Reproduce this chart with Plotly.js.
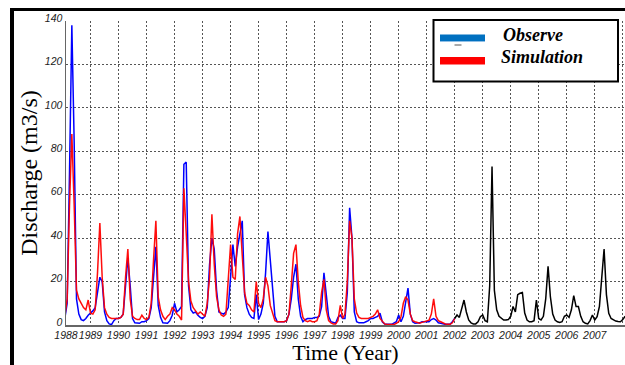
<!DOCTYPE html>
<html><head><meta charset="utf-8">
<script src="https://cdn.plot.ly/plotly-3.0.1.min.js"></script>
<style>
html,body{margin:0;padding:0;background:#fff;}
#wrap{position:relative;width:625px;height:365px;overflow:hidden;}
#chart{position:absolute;left:0;top:0;width:625px;height:365px;}
.bl{position:absolute;left:10px;top:8px;width:3.5px;height:357px;background:#000;}
.bt{position:absolute;left:10px;top:8px;width:615px;height:3px;background:#000;}
</style></head><body>
<div id="wrap"><div id="chart"></div><div class="bl"></div><div class="bt"></div></div>
<script>
// Monthly discharge (m3/s). Observed & simulated start Feb 1988; last value Jan 2002.
const observedStart = 1988 + 1/12;
const observed = [
  3, 10, 70, 138, 84, 12, 5, 2.5, 2, 3, 4.5,
  5.4, 6.5, 8, 15, 22, 20, 6, 2, 0.5, 0.2, 2, 3,
  3, 3.5, 5, 18, 31, 18, 3, 1, 0.8, 0.8, 1.5, 1.5,
  2, 3, 8, 22, 36, 9, 3.5, 1, 0.8, 0.8, 2, 4.5,
  10, 6, 7, 8.5, 74, 75, 18, 7, 5.5, 6, 4.5, 3.5,
  3, 4, 8, 28, 40, 35, 16, 6, 5.5, 5, 6, 8,
  22, 37, 27, 36, 42, 48, 14, 8, 5, 3.5, 3, 14,
  2.5, 5, 10, 24, 43, 30, 18, 4, 1.5, 1.5, 1.5, 1.5,
  2, 5, 12, 22, 28, 12, 4, 1.5, 2.5, 3, 3, 3,
  3.5, 3.5, 4, 8.5, 24, 14, 4, 1.5, 1, 0.8, 3.5, 4.5,
  3, 3, 15, 54, 40, 6, 1.5, 1, 1, 1, 1.5, 2,
  3, 3, 3.5, 4, 5.4, 1.5, 0.5, 0.3, 0.3, 0.3, 0.8, 1.5,
  4.6, 1.5, 4, 11, 17, 5, 1.5, 0.8, 0.8, 1, 1.5, 1.5,
  1.5, 1.5, 2.5, 3, 2.3, 1, 0.8, 0.5, 0.3, 0.3, 0.3, 1.5,
  3
];
const simulated = [
  4, 12, 55, 88, 55, 16, 12, 10, 8, 7, 11.5,
  5.4, 5, 7, 24, 47, 22, 8, 5, 3.5, 3, 3, 3,
  3, 3.5, 5, 22, 35, 12, 4, 3, 2.5, 2.5, 4.5, 3,
  2.5, 3.5, 10, 30, 48, 13, 7, 4, 2.5, 4, 5, 8,
  7, 5, 4, 2.3, 63, 42, 20, 11, 8, 6.5, 5, 6,
  5, 4, 10, 22, 51, 28, 13, 7, 4.6, 4, 5, 20,
  37, 22, 21, 42, 50, 32, 15, 10, 9, 7, 6, 20,
  10, 8, 12, 22, 18, 9, 5, 2, 1.5, 1.5, 1.5, 1.5,
  2, 5, 18, 33, 37, 20, 9, 3.5, 2, 1.5, 2, 1.5,
  1.5, 2, 5, 15, 21, 7, 2, 1, 0.5, 0.5, 2, 9,
  3, 5, 20, 48, 40, 12, 5.5, 3.5, 3, 3, 3, 3,
  3.5, 4, 5, 7, 3, 1.5, 0.5, 0.2, 0.2, 0.2, 0.2, 0.8,
  1.5, 3.8, 10, 13, 11.5, 5, 2, 1.5, 1, 0.8, 1.2, 1.5,
  2, 2.2, 5, 12, 4, 2, 1.5, 0.8, 0.5, 0.3, 0.3, 1,
  3
];
// Simulated continuation, Jan 2002 onward
const forecastStart = 2002;
const forecast = [
  3, 4.6, 3.5, 7, 11.5, 6, 2.3, 1, 0.5, 0.5, 1.5, 3.8,
  4.6, 2, 1.5, 18, 73, 16, 7, 4, 3, 2.3, 2.3, 2.5,
  4, 8.5, 6, 14, 14.6, 15, 5.5, 2.3, 1.5, 1.5, 2, 11.5,
  3, 2.3, 4, 12, 27, 13, 5, 2.3, 1.5, 1.2, 1.5, 4,
  4.6, 3.5, 7, 13.5, 8.5, 8.5, 4, 1.5, 0.8, 0.5, 2, 4.6,
  2.3, 3.8, 8.5, 20, 35, 14, 5.4, 3, 2.3, 1.8, 1.6, 1.5,
  2.5, 4
];
const yearLabels = ['1988','1989','1990','1991','1992','1993','1994','1995','1996','1997','1998','1999','2000','2001','2002','2003','2004','2005','2006','2007',''];
const yearTickVals = [1988.125,1989,1990,1991,1992,1993,1994,1995,1996,1997,1998,1999,2000,2001,2002,2003,2004,2005,2006,2007,2008];
const seriesNames = ['Observe', 'Simulation'];

function monthAxis(start, n) { const a = []; for (let k = 0; k < n; k++) a.push(start + k / 12); return a; }

const traces = [
  {x: monthAxis(observedStart, observed.length), y: observed, name: seriesNames[0], type: 'scatter', mode: 'lines',
   line: {color: '#0000ff', width: 1.5}, showlegend: false},
  {x: monthAxis(observedStart, simulated.length), y: simulated, name: seriesNames[1], type: 'scatter', mode: 'lines',
   line: {color: '#ff0000', width: 1.5}, opacity: 0.95, showlegend: false},
  {x: monthAxis(forecastStart, forecast.length), y: forecast, name: 'Simulation 2002-2007', type: 'scatter', mode: 'lines',
   line: {color: '#000000', width: 1.5}, showlegend: false}
];

const L = 66, R = 625, T = 21, B = 325;
const px = v => (v - L) / (R - L);
const py = v => (B - v) / (B - T);

const shapes = [
  {type: 'rect', xref: 'paper', yref: 'paper', x0: px(433.5), x1: px(618), y0: py(81.5), y1: py(20),
   line: {color: '#000', width: 2}, fillcolor: '#fff', layer: 'above'},
  {type: 'rect', xref: 'paper', yref: 'paper', x0: px(440), x1: px(485), y0: py(42), y1: py(34.5),
   line: {width: 0}, fillcolor: '#0070c0', layer: 'above'},
  {type: 'line', xref: 'paper', yref: 'paper', x0: px(440), x1: px(485), y0: py(41.5), y1: py(41.5),
   line: {color: '#8fbfe6', width: 1}, layer: 'above'},
  {type: 'line', xref: 'paper', yref: 'paper', x0: px(454.5), x1: px(461.5), y0: py(45), y1: py(45),
   line: {color: '#555', width: 1}, layer: 'above'},
  {type: 'rect', xref: 'paper', yref: 'paper', x0: px(440), x1: px(485), y0: py(64.5), y1: py(57),
   line: {width: 0}, fillcolor: '#ff0000', layer: 'above'}
];
const legendFont = {family: 'Liberation Serif', size: 18, color: '#000', weight: 'bold', style: 'italic'};
const annotations = [
  {xref: 'paper', yref: 'paper', x: px(502), y: py(35), xanchor: 'left', yanchor: 'middle', showarrow: false,
   text: seriesNames[0], font: legendFont, borderpad: 0},
  {xref: 'paper', yref: 'paper', x: px(500), y: py(56.5), xanchor: 'left', yanchor: 'middle', showarrow: false,
   text: seriesNames[1], font: legendFont, borderpad: 0}
];

const tickFont = {family: 'Liberation Sans', size: 10.5, color: '#222', style: 'italic'};
const layout = {
  width: 625, height: 365,
  margin: {l: L, r: 625 - R, t: T, b: 365 - B, pad: 0},
  paper_bgcolor: '#fff', plot_bgcolor: '#fff',
  showlegend: false,
  xaxis: {
    range: [1988.125, 2008.08], tickmode: 'array', tickvals: yearTickVals, ticktext: yearLabels, tickangle: 0,
    tickfont: tickFont, ticks: '', showline: true, linecolor: '#666', linewidth: 1.5,
    showgrid: true, gridcolor: '#555', gridwidth: 1, griddash: '2px,2px', zeroline: false,
    title: {text: 'Time (Year)', font: {family: 'Liberation Serif', size: 22, color: '#000'}, standoff: 2}
  },
  yaxis: {
    range: [0, 140], tickmode: 'linear', tick0: 0, dtick: 20,
    tickfont: tickFont, ticks: '', ticklabelshift: -3, showline: true, linecolor: '#666', linewidth: 1.5,
    showgrid: true, gridcolor: '#555', gridwidth: 1, griddash: '2px,2px', zeroline: false,
    title: {text: 'Discharge (m3/s)', font: {family: 'Liberation Serif', size: 24, color: '#000'}, standoff: 0}
  },
  shapes: shapes,
  annotations: annotations
};
Plotly.newPlot('chart', traces, layout, {displayModeBar: false, staticPlot: true});
</script>
</body></html>
